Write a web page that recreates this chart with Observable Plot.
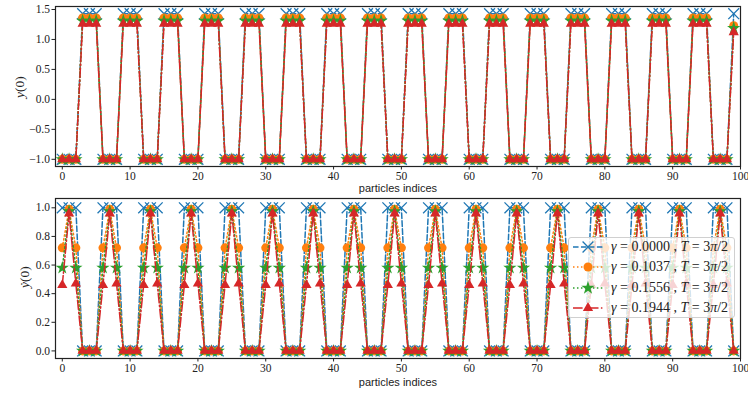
<!DOCTYPE html>
<html><head><meta charset="utf-8">
<script src="https://cdn.jsdelivr.net/npm/d3@7"></script>
<script src="https://cdn.jsdelivr.net/npm/@observablehq/plot@0.6"></script>
<style>
html,body{margin:0;padding:0;background:#fff;}
#wrap{position:relative;width:748px;height:394px;overflow:hidden;}
#wrap > svg{display:block;position:absolute;left:0;}
#wrap > svg text{font-family:"Liberation Serif",serif !important;font-size:11.5px !important;fill:#222;}
.ylab{position:absolute;font-family:"Liberation Serif",serif;font-size:13.5px;color:#222;transform:translate(-50%,-50%) rotate(-90deg);white-space:nowrap;}
.xlab{position:absolute;font-family:"Liberation Sans",sans-serif;font-size:11px;color:#222;transform:translate(-50%,-50%);white-space:nowrap;}
#legend{position:absolute;left:568px;top:237px;width:167px;height:81px;background:rgba(255,255,255,0.8);border:1px solid #d0d0d0;border-radius:3px;box-sizing:border-box;}
.lrow{position:absolute;left:3px;height:20px;display:flex;align-items:center;font-family:"Liberation Serif",serif;font-size:14px;color:#222;white-space:nowrap;}
.lrow svg{position:static;margin-right:7px;}
</style></head><body><div id="wrap"></div>
<script>
// x categories: particle indices 0..99
const indices = d3.range(100);
const xTicks = [0,10,20,30,40,50,60,70,80,90,100];
const yTicksTop = [-1.0,-0.5,0.0,0.5,1.0,1.5];
const yTicksBottom = [0.0,0.2,0.4,0.6,0.8,1.0];

const gammaLabels = ["0.0000","0.1037","0.1556","0.1944"];
const periodLabel = "3π/2";

// y(0) for each gamma
const yTop0 = [
-1,-1,-1,1.43,1.43,1.43, -1,-1,-1,1.43,1.43,1.43, -1,-1,-1,1.43,1.43,1.43, -1,-1,-1,1.43,1.43,1.43,
-1,-1,-1,1.43,1.43,1.43, -1,-1,-1,1.43,1.43,1.43, -1,-1,-1,1.43,1.43,1.43, -1,-1,-1,1.43,1.43,1.43,
-1,-1,-1,1.43,1.43,1.43, -1,-1,-1,1.43,1.43,1.43, -1,-1,-1,1.43,1.43,1.43, -1,-1,-1,1.43,1.43,1.43,
-1,-1,-1,1.43,1.43,1.43, -1,-1,-1,1.43,1.43,1.43, -1,-1,-1,1.43,1.43,1.43, -1,-1,-1,1.43,1.43,1.43,
-1,-1,-1,1.43];
const yTop1 = [
-1,-1,-1,1.36,1.36,1.36, -1,-1,-1,1.36,1.36,1.36, -1,-1,-1,1.36,1.36,1.36, -1,-1,-1,1.36,1.36,1.36,
-1,-1,-1,1.36,1.36,1.36, -1,-1,-1,1.36,1.36,1.36, -1,-1,-1,1.36,1.36,1.36, -1,-1,-1,1.36,1.36,1.36,
-1,-1,-1,1.36,1.36,1.36, -1,-1,-1,1.36,1.36,1.36, -1,-1,-1,1.36,1.36,1.36, -1,-1,-1,1.36,1.36,1.36,
-1,-1,-1,1.36,1.36,1.36, -1,-1,-1,1.36,1.36,1.36, -1,-1,-1,1.36,1.36,1.36, -1,-1,-1,1.36,1.36,1.36,
-1,-1,-1,1.23];
const yTop2 = [
-1,-1,-1,1.31,1.31,1.31, -1,-1,-1,1.31,1.31,1.31, -1,-1,-1,1.31,1.31,1.31, -1,-1,-1,1.31,1.31,1.31,
-1,-1,-1,1.31,1.31,1.31, -1,-1,-1,1.31,1.31,1.31, -1,-1,-1,1.31,1.31,1.31, -1,-1,-1,1.31,1.31,1.31,
-1,-1,-1,1.31,1.31,1.31, -1,-1,-1,1.31,1.31,1.31, -1,-1,-1,1.31,1.31,1.31, -1,-1,-1,1.31,1.31,1.31,
-1,-1,-1,1.31,1.31,1.31, -1,-1,-1,1.31,1.31,1.31, -1,-1,-1,1.31,1.31,1.31, -1,-1,-1,1.31,1.31,1.31,
-1,-1,-1,1.19];
const yTop3 = [
-1,-1,-1,1.26,1.26,1.26, -1,-1,-1,1.26,1.26,1.26, -1,-1,-1,1.26,1.26,1.26, -1,-1,-1,1.26,1.26,1.26,
-1,-1,-1,1.26,1.26,1.26, -1,-1,-1,1.26,1.26,1.26, -1,-1,-1,1.26,1.26,1.26, -1,-1,-1,1.26,1.26,1.26,
-1,-1,-1,1.26,1.26,1.26, -1,-1,-1,1.26,1.26,1.26, -1,-1,-1,1.26,1.26,1.26, -1,-1,-1,1.26,1.26,1.26,
-1,-1,-1,1.26,1.26,1.26, -1,-1,-1,1.26,1.26,1.26, -1,-1,-1,1.26,1.26,1.26, -1,-1,-1,1.26,1.26,1.26,
-1,-1,-1,1.12];

// ẏ(0) for each gamma
const yBot0 = [
1,1,1,0,0,0, 1,1,1,0,0,0, 1,1,1,0,0,0, 1,1,1,0,0,0,
1,1,1,0,0,0, 1,1,1,0,0,0, 1,1,1,0,0,0, 1,1,1,0,0,0,
1,1,1,0,0,0, 1,1,1,0,0,0, 1,1,1,0,0,0, 1,1,1,0,0,0,
1,1,1,0,0,0, 1,1,1,0,0,0, 1,1,1,0,0,0, 1,1,1,0,0,0,
1,1,1,0];
const yBot1 = [
0.72,0.99,0.72,0,0,0, 0.72,0.99,0.72,0,0,0, 0.72,0.99,0.72,0,0,0, 0.72,0.99,0.72,0,0,0,
0.72,0.99,0.72,0,0,0, 0.72,0.99,0.72,0,0,0, 0.72,0.99,0.72,0,0,0, 0.72,0.99,0.72,0,0,0,
0.72,0.99,0.72,0,0,0, 0.72,0.99,0.72,0,0,0, 0.72,0.99,0.72,0,0,0, 0.72,0.99,0.72,0,0,0,
0.72,0.99,0.72,0,0,0, 0.72,0.99,0.72,0,0,0, 0.72,0.99,0.72,0,0,0, 0.72,0.99,0.72,0,0,0,
0.72,0.99,0.72,0];
const yBot2 = [
0.58,0.975,0.58,0,0,0, 0.58,0.975,0.58,0,0,0, 0.58,0.975,0.58,0,0,0, 0.58,0.975,0.58,0,0,0,
0.58,0.975,0.58,0,0,0, 0.58,0.975,0.58,0,0,0, 0.58,0.975,0.58,0,0,0, 0.58,0.975,0.58,0,0,0,
0.58,0.975,0.58,0,0,0, 0.58,0.975,0.58,0,0,0, 0.58,0.975,0.58,0,0,0, 0.58,0.975,0.58,0,0,0,
0.58,0.975,0.58,0,0,0, 0.58,0.975,0.58,0,0,0, 0.58,0.975,0.58,0,0,0, 0.58,0.975,0.58,0,0,0,
0.58,0.975,0.58,0];
const yBot3 = [
0.46,0.96,0.47,0,0,0, 0.46,0.96,0.47,0,0,0, 0.46,0.96,0.47,0,0,0, 0.46,0.96,0.47,0,0,0,
0.46,0.96,0.47,0,0,0, 0.46,0.96,0.47,0,0,0, 0.46,0.96,0.47,0,0,0, 0.46,0.96,0.47,0,0,0,
0.46,0.96,0.47,0,0,0, 0.46,0.96,0.47,0,0,0, 0.46,0.96,0.47,0,0,0, 0.46,0.96,0.47,0,0,0,
0.46,0.96,0.47,0,0,0, 0.46,0.96,0.47,0,0,0, 0.46,0.96,0.47,0,0,0, 0.46,0.96,0.47,0,0,0,
0.46,0.96,0.47,0];

const colors = ["#1f77b4","#ff7f0e","#2ca02c","#d62728"];
const dashes = ["5.55,2.4","1.5,2.475","1.5,2.475","9.6,2.4,1.5,2.4"];
const symbols = ["times","circle","star","triangle"];
const symR = [5,4.5,4.2,3.8];

function seriesMarks(arrays){
  const marks = [];
  arrays.forEach((arr,i)=>{
    marks.push(Plot.lineY(arr,{x:indices,stroke:colors[i],strokeWidth:1.5,strokeDasharray:dashes[i]}));
    if(symbols[i]==="times")
      marks.push(Plot.dotY(arr,{x:indices,symbol:"times",r:symR[i],stroke:colors[i],strokeWidth:1.3,fill:"none"}));
    else
      marks.push(Plot.dotY(arr,{x:indices,symbol:symbols[i],r:symR[i],fill:colors[i],stroke:"none"}));
  });
  return marks;
}

const common = {
  width:748, marginLeft:55, marginRight:8,
  style:{fontFamily:"Liberation Serif, serif",fontSize:"11.5px",color:"#222",background:"transparent",overflow:"visible"}
};

const topPlot = Plot.plot({
  ...common, height:192, marginTop:6, marginBottom:26,
  x:{domain:[-1,100],ticks:xTicks,tickFormat:d=>String(d),tickSize:3.5,tickPadding:2,label:null},
  y:{domain:[-1.12,1.55],ticks:yTicksTop,tickFormat:d3.format(".1f"),tickSize:3.5,tickPadding:2,label:null},
  marks:[...seriesMarks([yTop0,yTop1,yTop2,yTop3]), Plot.frame({stroke:"#222",strokeWidth:1.2})]
});

const botPlot = Plot.plot({
  ...common, height:202, marginTop:6, marginBottom:36,
  x:{domain:[-1,100],ticks:xTicks,tickFormat:d=>String(d),tickSize:3.5,tickPadding:2,label:null},
  y:{domain:[-0.053,1.065],ticks:yTicksBottom,tickFormat:d3.format(".1f"),tickSize:3.5,tickPadding:2,label:null},
  marks:[...seriesMarks([yBot0,yBot1,yBot2,yBot3]), Plot.frame({stroke:"#222",strokeWidth:1.2})]
});

const wrap = document.getElementById("wrap");
topPlot.style.top = "0px";
botPlot.style.top = "192px";
wrap.appendChild(topPlot);
wrap.appendChild(botPlot);

function addLabel(cls, html, x, y){
  const d = document.createElement("div");
  d.className = cls; d.innerHTML = html;
  d.style.left = x+"px"; d.style.top = y+"px";
  wrap.appendChild(d);
}
addLabel("ylab","<i>y</i>(0)",20,87);
addLabel("ylab","<i>ẏ</i>(0)",25,277);
addLabel("xlab","particles indices",398,188);
addLabel("xlab","particles indices",398,382);

// legend
const legend = document.createElement("div");
legend.id = "legend";
wrap.appendChild(legend);
const symMap = {times:d3.symbolTimes,circle:d3.symbolCircle,star:d3.symbolStar,triangle:d3.symbolTriangle};
gammaLabels.forEach((g,i)=>{
  const row = document.createElement("div");
  row.className = "lrow";
  row.style.top = (-1 + i*20.3)+"px";
  const svg = d3.create("svg").attr("width",32).attr("height",14);
  svg.append("line").attr("x1",1).attr("x2",31).attr("y1",7).attr("y2",7)
    .attr("stroke",colors[i]).attr("stroke-width",1.5).attr("stroke-dasharray",dashes[i]);
  const p = svg.append("path").attr("transform","translate(16,7)")
    .attr("d",d3.symbol(symMap[symbols[i]], Math.PI*symR[i]*symR[i])());
  if(symbols[i]==="times") p.attr("fill","none").attr("stroke",colors[i]).attr("stroke-width",1.3);
  else p.attr("fill",colors[i]);
  row.appendChild(svg.node());
  const t = document.createElement("span");
  t.innerHTML = `<i>γ</i> = ${g} , <i>T</i> = 3<i>π</i>/2`;
  row.appendChild(t);
  legend.appendChild(row);
});
</script></body></html>
